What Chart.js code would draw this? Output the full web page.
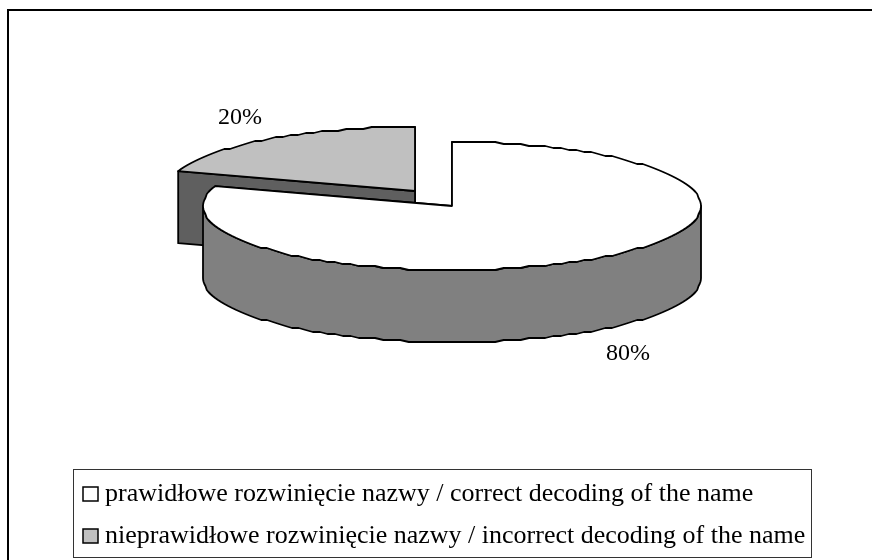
<!DOCTYPE html>
<html>
<head>
<meta charset="utf-8">
<style>
  html, body { margin: 0; padding: 0; background: #fff; }
  canvas { display: block; }
</style>
<script src="https://cdn.jsdelivr.net/npm/chart.js@4"></script>
</head>
<body>
<canvas id="pie" width="872" height="560"></canvas>
<script>
const categories = [
  'prawidłowe rozwinięcie nazwy / correct decoding of the name',
  'nieprawidłowe rozwinięcie nazwy / incorrect decoding of the name',
];
const shares = [80, 20];
const topColors = ['#ffffff', '#c0c0c0'];
const wallColors = ['#808080', '#5f5f5f'];

const FONT = '24px "Liberation Serif"';
// where each slice's centre lands on the page, the gray one is pulled out
const centers = [{ x: 452, y: 206 }, { x: 415, y: 191 }];
const labelSpots = [{ x: 628, y: 354 }, { x: 240, y: 118 }];
const RX = 249;
const RY = 64;
const DEPTH = 72;

// ellipse outline, snapped a bit so the edge looks as rough as the old metafile
function rimPoints(c, from, to, drop) {
  const n = Math.max(2, Math.ceil(Math.abs(to - from) / (Math.PI / 90)));
  const pts = [];
  for (let i = 0; i <= n; i++) {
    const a = from + ((to - from) * i) / n;
    const sy = i === 0 || i === n ? Math.sin(a) : Math.round(Math.sin(a) * 32) / 32;
    pts.push([c.x + RX * Math.cos(a), c.y + RY * sy + drop]);
  }
  return pts;
}

function shape(ctx, pts, fill) {
  ctx.beginPath();
  pts.forEach((p, i) => (i ? ctx.lineTo(p[0], p[1]) : ctx.moveTo(p[0], p[1])));
  ctx.closePath();
  ctx.fillStyle = fill;
  ctx.fill();
  ctx.stroke();
}

const pie3d = {
  id: 'pie3d',
  beforeDatasetsDraw(chart) {
    const ctx = chart.ctx;
    const arcs = chart.getDatasetMeta(0).data;
    ctx.save();
    ctx.strokeStyle = '#000';
    ctx.lineWidth = 1.8;
    ctx.lineJoin = 'round';
    for (let i = arcs.length - 1; i >= 0; i--) {
      const arc = arcs[i];
      const c = centers[i];
      const rim = rimPoints(c, arc.startAngle, arc.endAngle, 0);
      const first = rim[0];
      const last = rim[rim.length - 1];

      // cut faces
      shape(ctx, [last, [c.x, c.y], [c.x, c.y + DEPTH], [last[0], last[1] + DEPTH]], wallColors[i]);
      shape(ctx, [first, [c.x, c.y], [c.x, c.y + DEPTH], [first[0], first[1] + DEPTH]], wallColors[i]);

      // outer wall, only the front half can be seen
      const from = Math.max(arc.startAngle, 0);
      const to = Math.min(arc.endAngle, Math.PI);
      if (to > from) {
        const upper = rimPoints(c, from, to, 0);
        const lower = rimPoints(c, from, to, DEPTH).reverse();
        shape(ctx, upper.concat(lower), wallColors[i]);
      }

      // top face
      ctx.save();
      ctx.translate(c.x, c.y);
      ctx.scale(RX / arc.outerRadius, RY / arc.outerRadius);
      ctx.translate(-arc.x, -arc.y);
      arc.draw(ctx);
      ctx.restore();
      shape(ctx, [[c.x, c.y]].concat(rim), topColors[i]);
    }

    ctx.fillStyle = '#000';
    ctx.font = FONT;
    ctx.textAlign = 'center';
    ctx.textBaseline = 'middle';
    shares.forEach((v, i) => ctx.fillText(v + '%', labelSpots[i].x, labelSpots[i].y));
    ctx.restore();
    return false;
  },
  afterDraw(chart) {
    const ctx = chart.ctx;
    ctx.save();
    // outer frame: only top and left edges are in the picture
    ctx.fillStyle = '#000';
    ctx.fillRect(7, 9, 865, 2);
    ctx.fillRect(7, 9, 2, 551);
    // legend box
    ctx.strokeStyle = '#333';
    ctx.lineWidth = 1;
    ctx.strokeRect(73.5, 469.5, 738, 88);
    // swatches
    ctx.strokeStyle = '#000';
    ctx.lineWidth = 1.5;
    chart.legend.legendHitBoxes.forEach((box, i) => {
      const top = box.top + box.height / 2 - 7;
      ctx.fillStyle = topColors[i];
      ctx.fillRect(box.left, top, 15, 14);
      ctx.strokeRect(box.left, top, 15, 14);
    });
    ctx.restore();
  },
};

new Chart(document.getElementById('pie'), {
  type: 'pie',
  data: {
    labels: categories,
    datasets: [{ data: shares, backgroundColor: topColors, borderWidth: 0 }],
  },
  options: {
    responsive: false,
    animation: false,
    devicePixelRatio: 1,
    events: [],
    layout: { padding: { left: 67, right: 60, bottom: 1 } },
    plugins: {
      tooltip: { enabled: false },
      legend: {
        position: 'bottom',
        align: 'start',
        labels: {
          boxWidth: 9,
          padding: 16,
          color: '#000',
          font: { family: 'Liberation Serif', size: 26 },
          generateLabels(chart) {
            return Chart.overrides.pie.plugins.legend.labels
              .generateLabels(chart)
              .map((item) => ({ ...item, fillStyle: 'transparent', strokeStyle: 'transparent', lineWidth: 0 }));
          },
        },
      },
    },
  },
  plugins: [pie3d],
});
</script>
</body>
</html>
